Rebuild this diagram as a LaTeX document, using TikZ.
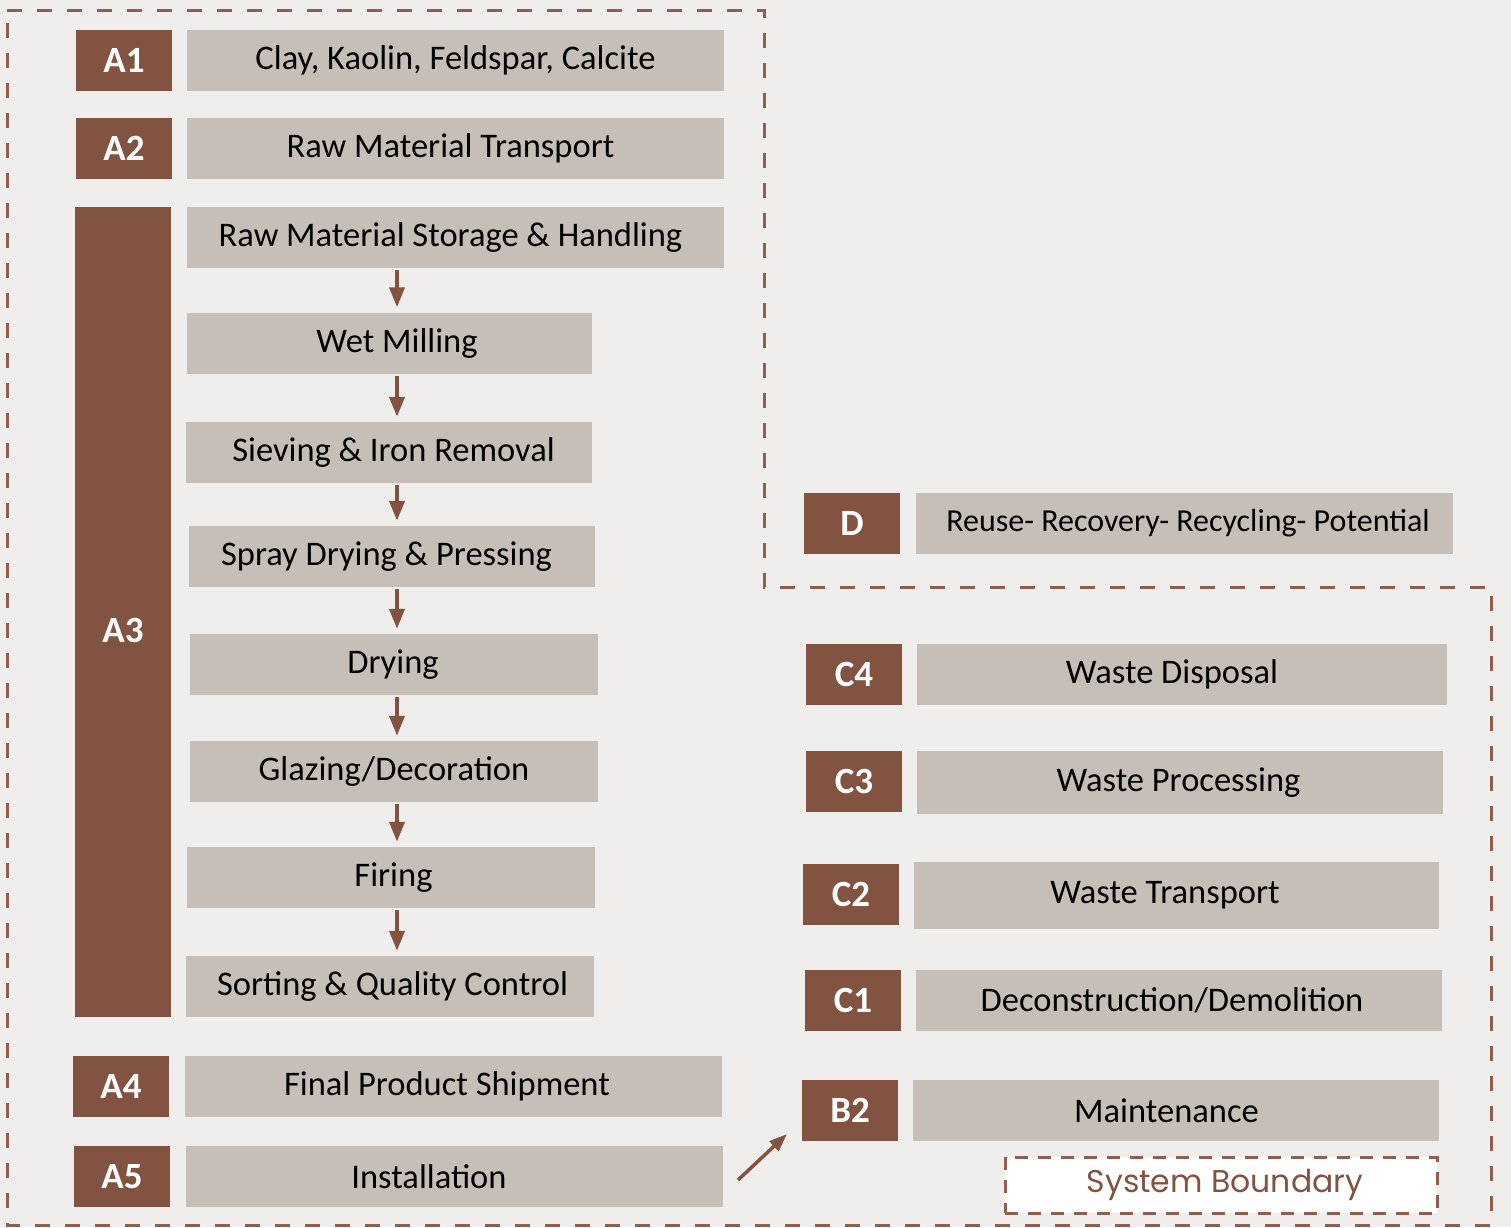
\documentclass[tikz,border=0pt]{standalone}
\usepackage{fontspec}
\setmainfont{Carlito}
\newfontfamily\sbfont{Poppins}
\usetikzlibrary{arrows.meta}
\definecolor{bg}{HTML}{EFEEEC}
\definecolor{labc}{HTML}{825341}
\definecolor{boxc}{HTML}{C6BFB8}
\definecolor{dashc}{HTML}{8E5E4E}
\newcommand\tsh[2]{\hspace*{#1}#2\hspace*{-#1}}
\begin{document}
\begin{tikzpicture}[x=1pt,y=-1pt,
  lab/.style={rectangle, fill=labc, text=white, minimum width=96pt, minimum height=61pt, inner sep=0pt, font=\fontsize{37}{42}\selectfont\bfseries},
  box/.style={rectangle, fill=boxc, text=black, minimum height=61pt, inner sep=0pt, font=\fontsize{34.5}{40}\selectfont},
  arr/.style={draw=labc, line width=4pt, -{Triangle[length=20pt,width=15pt]}},
  bound/.style={draw=dashc, line width=3pt, dash pattern=on 15pt off 15pt},
  sbound/.style={draw=dashc, line width=3pt, dash pattern=on 13pt off 10pt}]
\useasboundingbox (0,0) rectangle (1511,1227);
\fill[bg] (0,0) rectangle (1511,1227);
% system boundary
\draw[bound] (7,10) -- (764,10) -- (764,587) -- (1491,587) -- (1491,1225) -- (7,1225) -- cycle;
% A labels
\node[lab] (A1) at (124,60) {A1};
\node[box, minimum width=537pt] (t1) at (455.5,60) {Clay, Kaolin, Feldspar, Calcite};
\node[lab] (A2) at (124,148.5) {A2};
\node[box, minimum width=537pt] (t2) at (455.5,148.5) {\tsh{-5pt}{Raw Material Transport}};
\node[lab, minimum height=810pt] (A3) at (123,612) {};
\node[lab, fill=none, minimum height=0pt] (A3t) at (123,630) {A3};
\node[box, minimum width=537pt] (r1) at (455.5,237.5) {\tsh{-5pt}{Raw Material Storage \& Handling}};
\node[box, minimum width=405pt] (r2) at (389.5,343) {\tsh{7.5pt}{Wet Milling}};
\node[box, minimum width=406pt] (r3) at (389,452.5) {\tsh{4.5pt}{Sieving \& Iron Removal}};
\node[box, minimum width=406pt] (r4) at (392,556.5) {\tsh{-5.5pt}{Spray Drying \& Pressing}};
\node[box, minimum width=408pt] (r5) at (394,664.5) {\tsh{-1pt}{Drying}};
\node[box, minimum width=408pt] (r6) at (394,771.5) {Glazing/Decoration};
\node[box, minimum width=408pt] (r7) at (391,877.5) {\tsh{2.5pt}{Firing}};
\node[box, minimum width=408pt] (r8) at (390,986.5) {\tsh{2.5pt}{Sorting \& Quality Control}};
\coordinate (ax) at (397,0);
\foreach \a/\b in {r1/r2,r2/r3,r3/r4,r4/r5,r5/r6,r6/r7,r7/r8}
  \draw[arr, shorten <=2pt, shorten >=5pt] (\a.south -| ax) -- (\b.north -| ax);
\node[lab] (A4) at (121,1086.5) {A4};
\node[box, minimum width=537pt] (t4) at (453.5,1086.5) {\tsh{-6.5pt}{Final Product Shipment}};
\node[lab] (A5) at (122,1176.5) {A5};
\node[box, minimum width=537pt] (t5) at (454.5,1176.5) {\tsh{-25.5pt}{Installation}};
% right side
\node[lab] (D) at (852,523.5) {D};
\node[box, minimum width=537pt, font=\fontsize{32}{38}\selectfont] (tD) at (1184.5,523.5) {\tsh{3.5pt}{Reuse- Recovery- Recycling- Potential}};
\node[lab] (C4) at (854,674.5) {C4};
\node[box, minimum width=530pt] (tC4) at (1182,674.5) {\tsh{-10pt}{Waste Disposal}};
\node[lab] (C3) at (854,781.5) {C3};
\node[box, minimum width=526pt, minimum height=63pt] (tC3) at (1180,782.5) {\tsh{-1.5pt}{Waste Processing}};
\node[lab] (C2) at (851,894.5) {C2};
\node[box, minimum width=525pt, minimum height=67pt] (tC2) at (1176.5,895.5) {\tsh{-11.5pt}{Waste Transport}};
\node[lab] (C1) at (853,1000.5) {C1};
\node[box, minimum width=526pt] (tC1) at (1179,1000.5) {\tsh{-7pt}{Deconstruction/Demolition}};
\node[lab] (B2) at (850,1110.5) {B2};
\node[box, minimum width=526pt] (tB2) at (1176,1110.5) {\tsh{-9.5pt}{Maintenance}};
\node[rectangle, fill=white, sbound, minimum width=432pt, minimum height=56pt, inner sep=0pt, text=labc, font=\sbfont\fontsize{31.5}{36}\selectfont] (sb) at (1221,1185) {\tsh{4pt}{System Boundary}};
\coordinate (as) at (738,1180);
\coordinate (ae) at (787,1134);
\draw[arr, line width=3.5pt, -{Triangle[length=18pt,width=13pt]}] (as) -- (ae);
\end{tikzpicture}
\end{document}
